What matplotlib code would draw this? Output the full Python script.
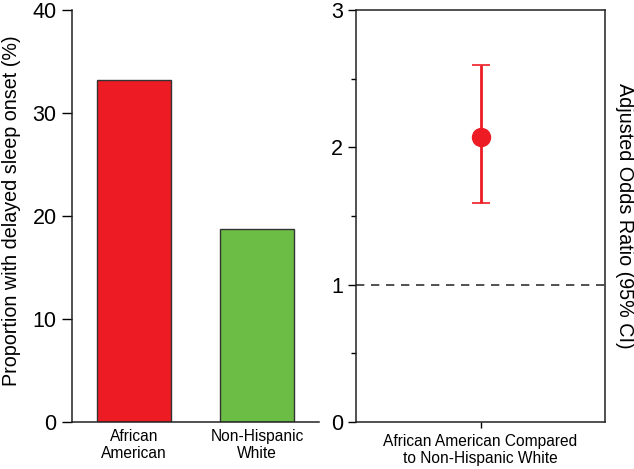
import matplotlib.pyplot as plt
import numpy as np

plt.rcParams['font.family'] = ['Liberation Sans', 'DejaVu Sans']

# left panel: proportion with delayed sleep onset
groups = ["African\nAmerican", "Non-Hispanic\nWhite"]
proportion = [33.2, 18.7]
bar_colors = ["#ED1C24", "#6CBD45"]

# right panel: adjusted odds ratio with 95% CI
comparison = ["African American Compared\nto Non-Hispanic White"]
odds_ratio = [2.075]
ci_low = [1.595]
ci_high = [2.60]

W, H = 634, 469
fig = plt.figure(figsize=(W / 100, H / 100), dpi=100)

# axes positions in pixels (left, top, right, bottom)
def px_axes(l, t, r, b):
    return fig.add_axes([l / W, 1 - b / H, (r - l) / W, (b - t) / H])

ax1 = px_axes(72, 10, 319, 422)
x = np.arange(len(groups))
ax1.bar(x, proportion, width=0.6, color=bar_colors, edgecolor="#333333", linewidth=1)
ax1.set_xlim(-0.5, 1.5)
ax1.set_ylim(0, 40)
ax1.set_yticks([0, 10, 20, 30, 40])
ax1.set_xticks(x)
ax1.set_xticklabels(groups, fontsize=11.2, linespacing=1.2)
ax1.tick_params(axis='x', length=0, pad=5)
ax1.tick_params(axis='y', length=7.5, width=1, labelsize=15.5, pad=3.5)
for s in ["top", "right"]:
    ax1.spines[s].set_visible(False)
ax1.set_ylabel("Proportion with delayed sleep onset (%)", fontsize=14.2, va='center')
ax1.yaxis.set_label_coords(-0.245, 0.513)

ax2 = px_axes(356, 10, 605, 422)
xe = np.arange(len(comparison))
err = [np.array(odds_ratio) - np.array(ci_low), np.array(ci_high) - np.array(odds_ratio)]
ax2.errorbar(xe, odds_ratio, yerr=err, fmt='o', color="#ED1C24", markersize=13,
             elinewidth=2, capsize=6.5, capthick=1.2)
ax2.axhline(1, color="#333333", linestyle=(0, (5, 4)), linewidth=1.2)
ax2.set_xlim(-1, 1)
ax2.set_ylim(0, 3)
ax2.set_yticks([0, 1, 2, 3])
ax2.set_yticks([0.5, 1.5, 2.5], minor=True)
ax2.set_xticks(xe)
ax2.set_xticklabels(comparison, fontsize=11.2, linespacing=1.2)
ax2.tick_params(axis='x', length=4.5, width=1, pad=4)
ax2.tick_params(axis='y', which='major', length=6, width=1, labelsize=15.5, pad=3.5)
ax2.tick_params(axis='y', which='minor', length=3.5, width=1)
ax2.yaxis.set_label_position("right")
ax2.set_ylabel("Adjusted Odds Ratio (95% CI)", fontsize=14.2, rotation=270, va='center')
ax2.yaxis.set_label_coords(1.08, 0.5)

for ax in (ax1, ax2):
    for s in ax.spines.values():
        s.set_linewidth(1.1)
        s.set_color("#222222")

plt.savefig("out.png", dpi=100)
